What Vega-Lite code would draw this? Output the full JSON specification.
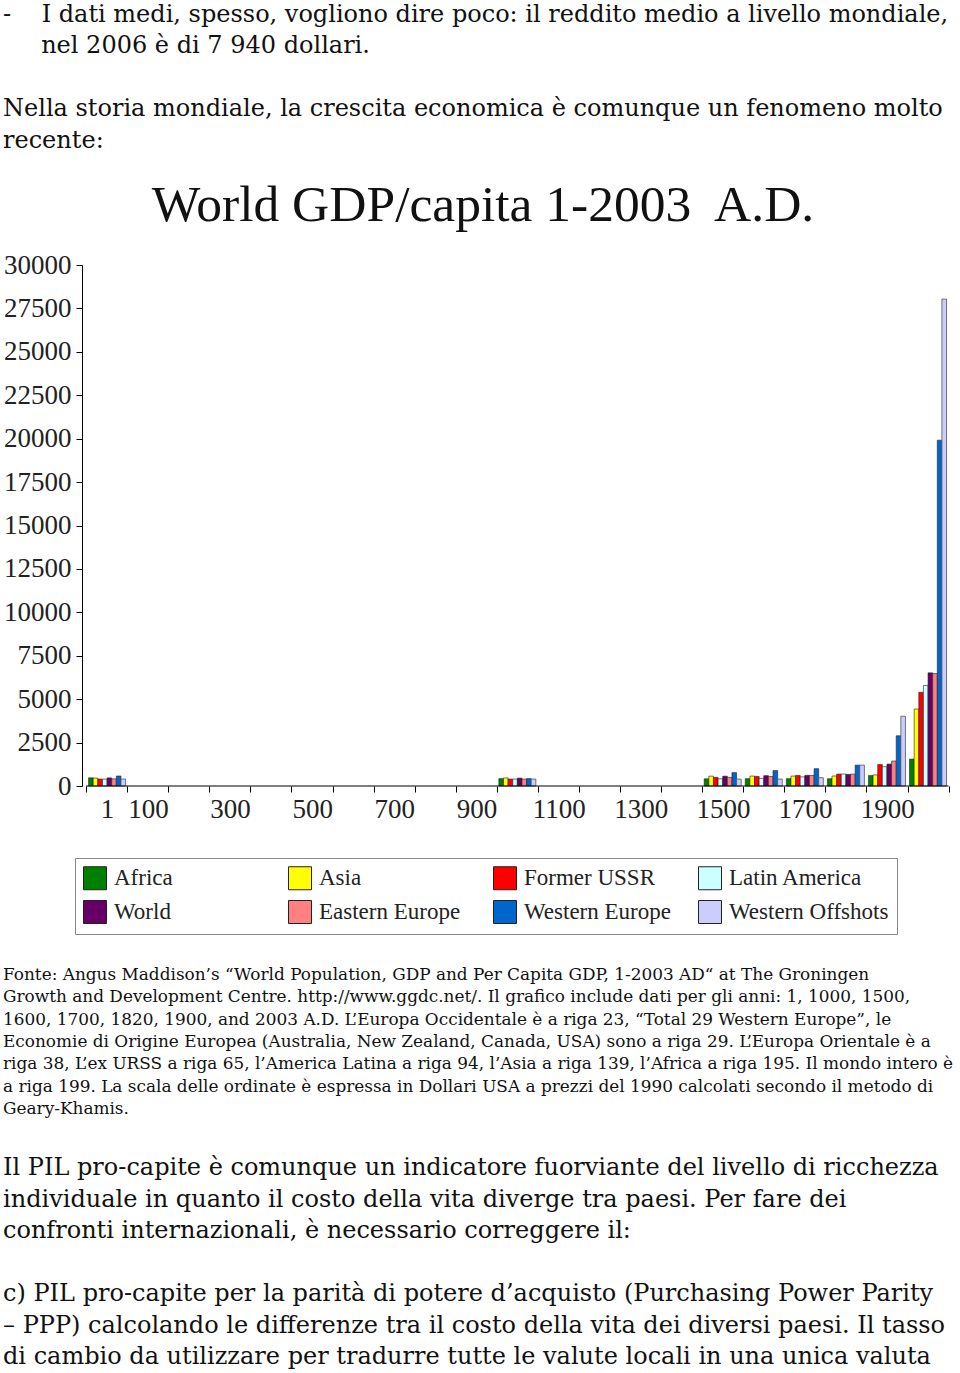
{
  "$schema": "https://vega.github.io/schema/vega-lite/v6.json",
  "padding": {"top": 2, "left": 0, "right": 0, "bottom": 0},
  "spacing": 144,
  "title": {
    "text": ["-\u00a0\u00a0\u00a0\u00a0I dati medi, spesso, vogliono dire poco: il reddito medio a livello mondiale,", "\u200b\u00a0\u00a0\u00a0\u00a0\u00a0nel 2006 è di 7 940 dollari.", "\u200b", "Nella storia mondiale, la crescita economica è comunque un fenomeno molto", "recente:"],
    "anchor": "start", "font": "DejaVu Serif", "fontSize": 24, "fontWeight": "normal", "lineHeight": 31.6, "color": "#111", "offset": 29.5, "dx": 3, "dy": 3
  },
  "datasets": {
    "gdp": [
      {"region": "Africa", "year": 1, "period": 1, "gdp": 472},
      {"region": "Asia", "year": 1, "period": 1, "gdp": 456},
      {"region": "Former USSR", "year": 1, "period": 1, "gdp": 400},
      {"region": "Latin America", "year": 1, "period": 1, "gdp": 400},
      {"region": "World", "year": 1, "period": 1, "gdp": 467},
      {"region": "Eastern Europe", "year": 1, "period": 1, "gdp": 412},
      {"region": "Western Europe", "year": 1, "period": 1, "gdp": 576},
      {"region": "Western Offshots", "year": 1, "period": 1, "gdp": 400},
      {"region": "Africa", "year": 1000, "period": 1000, "gdp": 425},
      {"region": "Asia", "year": 1000, "period": 1000, "gdp": 465},
      {"region": "Former USSR", "year": 1000, "period": 1000, "gdp": 400},
      {"region": "Latin America", "year": 1000, "period": 1000, "gdp": 400},
      {"region": "World", "year": 1000, "period": 1000, "gdp": 453},
      {"region": "Eastern Europe", "year": 1000, "period": 1000, "gdp": 400},
      {"region": "Western Europe", "year": 1000, "period": 1000, "gdp": 427},
      {"region": "Western Offshots", "year": 1000, "period": 1000, "gdp": 400},
      {"region": "Africa", "year": 1500, "period": 1500, "gdp": 414},
      {"region": "Asia", "year": 1500, "period": 1500, "gdp": 568},
      {"region": "Former USSR", "year": 1500, "period": 1500, "gdp": 499},
      {"region": "Latin America", "year": 1500, "period": 1500, "gdp": 416},
      {"region": "World", "year": 1500, "period": 1500, "gdp": 566},
      {"region": "Eastern Europe", "year": 1500, "period": 1500, "gdp": 496},
      {"region": "Western Europe", "year": 1500, "period": 1500, "gdp": 771},
      {"region": "Western Offshots", "year": 1500, "period": 1500, "gdp": 400},
      {"region": "Africa", "year": 1600, "period": 1600, "gdp": 422},
      {"region": "Asia", "year": 1600, "period": 1600, "gdp": 574},
      {"region": "Former USSR", "year": 1600, "period": 1600, "gdp": 552},
      {"region": "Latin America", "year": 1600, "period": 1600, "gdp": 438},
      {"region": "World", "year": 1600, "period": 1600, "gdp": 596},
      {"region": "Eastern Europe", "year": 1600, "period": 1600, "gdp": 548},
      {"region": "Western Europe", "year": 1600, "period": 1600, "gdp": 889},
      {"region": "Western Offshots", "year": 1600, "period": 1600, "gdp": 400},
      {"region": "Africa", "year": 1700, "period": 1700, "gdp": 421},
      {"region": "Asia", "year": 1700, "period": 1700, "gdp": 572},
      {"region": "Former USSR", "year": 1700, "period": 1700, "gdp": 610},
      {"region": "Latin America", "year": 1700, "period": 1700, "gdp": 527},
      {"region": "World", "year": 1700, "period": 1700, "gdp": 615},
      {"region": "Eastern Europe", "year": 1700, "period": 1700, "gdp": 606},
      {"region": "Western Europe", "year": 1700, "period": 1700, "gdp": 997},
      {"region": "Western Offshots", "year": 1700, "period": 1700, "gdp": 476},
      {"region": "Africa", "year": 1820, "period": 1800, "gdp": 420},
      {"region": "Asia", "year": 1820, "period": 1800, "gdp": 577},
      {"region": "Former USSR", "year": 1820, "period": 1800, "gdp": 688},
      {"region": "Latin America", "year": 1820, "period": 1800, "gdp": 691},
      {"region": "World", "year": 1820, "period": 1800, "gdp": 667},
      {"region": "Eastern Europe", "year": 1820, "period": 1800, "gdp": 683},
      {"region": "Western Europe", "year": 1820, "period": 1800, "gdp": 1202},
      {"region": "Western Offshots", "year": 1820, "period": 1800, "gdp": 1202},
      {"region": "Africa", "year": 1900, "period": 1900, "gdp": 601},
      {"region": "Asia", "year": 1900, "period": 1900, "gdp": 638},
      {"region": "Former USSR", "year": 1900, "period": 1900, "gdp": 1237},
      {"region": "Latin America", "year": 1900, "period": 1900, "gdp": 1113},
      {"region": "World", "year": 1900, "period": 1900, "gdp": 1262},
      {"region": "Eastern Europe", "year": 1900, "period": 1900, "gdp": 1438},
      {"region": "Western Europe", "year": 1900, "period": 1900, "gdp": 2892},
      {"region": "Western Offshots", "year": 1900, "period": 1900, "gdp": 4015},
      {"region": "Africa", "year": 2003, "period": 2000, "gdp": 1549},
      {"region": "Asia", "year": 2003, "period": 2000, "gdp": 4434},
      {"region": "Former USSR", "year": 2003, "period": 2000, "gdp": 5397},
      {"region": "Latin America", "year": 2003, "period": 2000, "gdp": 5786},
      {"region": "World", "year": 2003, "period": 2000, "gdp": 6516},
      {"region": "Eastern Europe", "year": 2003, "period": 2000, "gdp": 6476},
      {"region": "Western Europe", "year": 2003, "period": 2000, "gdp": 19912},
      {"region": "Western Offshots", "year": 2003, "period": 2000, "gdp": 28039}
    ]
  },
  "vconcat": [
    {
      "width": 960,
      "height": 521,
      "title": {"text": "World GDP/capita 1-2003\u00a0 A.D.", "font": "Liberation Serif", "fontSize": 51.5, "fontWeight": "normal", "color": "#111", "anchor": "middle", "offset": 20, "dx": 3},
      "layer": [
        {
          "data": {"name": "gdp"},
          "encoding": {
            "x": {
              "field": "period", "type": "quantitative",
              "scale": {"domain": [-247.59, 2065.66], "nice": false, "zero": false},
              "axis": {
                "title": null, "values": [-50, 50, 150, 250, 350, 450, 550, 650, 750, 850, 950, 1050, 1150, 1250, 1350, 1450, 1550, 1650, 1750, 1850, 1950, 2050],
                "labelExpr": "datum.value < 0 ? '1' : ((datum.value <= 1850 && (datum.value + 50) % 200 == 100) ? format(datum.value + 50, 'd') : '')",
                "labelOffset": 20.75, "labelFlush": false, "labelOverlap": false, "labelBound": false,
                "domain": false, "grid": false, "tickSize": 6, "tickColor": "#000", "tickWidth": 1,
                "labelFont": "Liberation Serif", "labelFontSize": 27, "labelColor": "#222", "labelPadding": 4
              }
            },
            "y": {
              "field": "gdp", "type": "quantitative",
              "scale": {"domain": [0, 30000], "nice": false},
              "axis": {
                "title": null, "offset": -82, "values": [0, 2500, 5000, 7500, 10000, 12500, 15000, 17500, 20000, 22500, 25000, 27500, 30000],
                "format": "d", "grid": false, "domainColor": "#000", "domainWidth": 1, "tickColor": "#000", "tickSize": 6,
                "labelFont": "Liberation Serif", "labelFontSize": 27, "labelColor": "#222", "labelPadding": 5, "labelFlush": false, "labelOverlap": false
              }
            },
            "color": {
              "field": "region", "type": "nominal",
              "scale": {
                "domain": ["Africa", "Asia", "Former USSR", "Latin America", "World", "Eastern Europe", "Western Europe", "Western Offshots"],
                "range": ["#008000", "#ffff00", "#ff0000", "#ccffff", "#660066", "#ff8080", "#0066cc", "#ccccff"]
              },
              "legend": {
                "title": null, "orient": "none", "legendX": 75, "legendY": 593, "direction": "horizontal", "columns": 4, "gridAlign": "all",
                "symbolType": "square", "symbolSize": 529, "symbolStrokeColor": "#222", "symbolStrokeWidth": 1, "symbolOpacity": 1,
                "labelFont": "Liberation Serif", "labelFontSize": 23, "labelColor": "#222", "labelLimit": 0, "labelOffset": 7,
                "columnPadding": 12, "rowPadding": 6, "padding": 8, "strokeColor": "#888", "fillColor": "#ffffff"
              }
            }
          },
          "layer": [
            {"transform": [{"filter": {"field": "region", "equal": "Africa"}}], "mark": {"type": "bar", "width": 4.625, "xOffset": -16.1875, "stroke": "#222", "strokeWidth": 0.6}},
            {"transform": [{"filter": {"field": "region", "equal": "Asia"}}], "mark": {"type": "bar", "width": 4.625, "xOffset": -11.5625, "stroke": "#222", "strokeWidth": 0.6}},
            {"transform": [{"filter": {"field": "region", "equal": "Former USSR"}}], "mark": {"type": "bar", "width": 4.625, "xOffset": -6.9375, "stroke": "#222", "strokeWidth": 0.6}},
            {"transform": [{"filter": {"field": "region", "equal": "Latin America"}}], "mark": {"type": "bar", "width": 4.625, "xOffset": -2.3125, "stroke": "#222", "strokeWidth": 0.6}},
            {"transform": [{"filter": {"field": "region", "equal": "World"}}], "mark": {"type": "bar", "width": 4.625, "xOffset": 2.3125, "stroke": "#222", "strokeWidth": 0.6}},
            {"transform": [{"filter": {"field": "region", "equal": "Eastern Europe"}}], "mark": {"type": "bar", "width": 4.625, "xOffset": 6.9375, "stroke": "#222", "strokeWidth": 0.6}},
            {"transform": [{"filter": {"field": "region", "equal": "Western Europe"}}], "mark": {"type": "bar", "width": 4.625, "xOffset": 11.5625, "stroke": "#222", "strokeWidth": 0.6}},
            {"transform": [{"filter": {"field": "region", "equal": "Western Offshots"}}], "mark": {"type": "bar", "width": 4.625, "xOffset": 16.1875, "stroke": "#555", "strokeWidth": 0.8}}
          ]
        },
        {
          "data": {"values": [{}]},
          "mark": {"type": "rule", "color": "#000", "strokeWidth": 1},
          "encoding": {"x": {"datum": -50}, "x2": {"datum": 2050}, "y": {"datum": 0}}
        }
      ]
    },
    {
      "width": 960,
      "height": 1,
      "data": {"values": []},
      "mark": "point",
      "title": {
        "text": [
          "Fonte: Angus Maddison’s “World Population, GDP and Per Capita GDP, 1-2003 AD“ at The Groningen",
          "Growth and Development Centre. http://www.ggdc.net/. Il grafico include dati per gli anni: 1, 1000, 1500,",
          "1600, 1700, 1820, 1900, and 2003 A.D. L’Europa Occidentale è a riga 23, “Total 29 Western Europe”, le",
          "Economie di Origine Europea (Australia, New Zealand, Canada, USA) sono a riga 29. L’Europa Orientale è a",
          "riga 38, L’ex URSS a riga 65, l’America Latina a riga 94, l’Asia a riga 139, l’Africa a riga 195. Il mondo intero è",
          "a riga 199. La scala delle ordinate è espressa in Dollari USA a prezzi del 1990 calcolati secondo il metodo di",
          "Geary-Khamis."
        ],
        "subtitle": [
          "Il PIL pro-capite è comunque un indicatore fuorviante del livello di ricchezza",
          "individuale in quanto il costo della vita diverge tra paesi. Per fare dei",
          "confronti internazionali, è necessario correggere il:",
          "\u200b",
          "c) PIL pro-capite per la parità di potere d’acquisto (Purchasing Power Parity",
          "– PPP) calcolando le differenze tra il costo della vita dei diversi paesi. Il tasso",
          "di cambio da utilizzare per tradurre tutte le valute locali in una unica valuta"
        ],
        "anchor": "start", "font": "DejaVu Serif", "fontSize": 16.9, "fontWeight": "normal", "lineHeight": 22.33, "color": "#111",
        "subtitleFont": "DejaVu Serif", "subtitleFontSize": 24, "subtitleLineHeight": 31.5, "subtitleColor": "#111", "subtitlePadding": 38,
        "offset": 0, "dx": 3
      }
    }
  ],
  "config": {
    "view": {"stroke": null},
    "axis": {"grid": false}
  }
}
